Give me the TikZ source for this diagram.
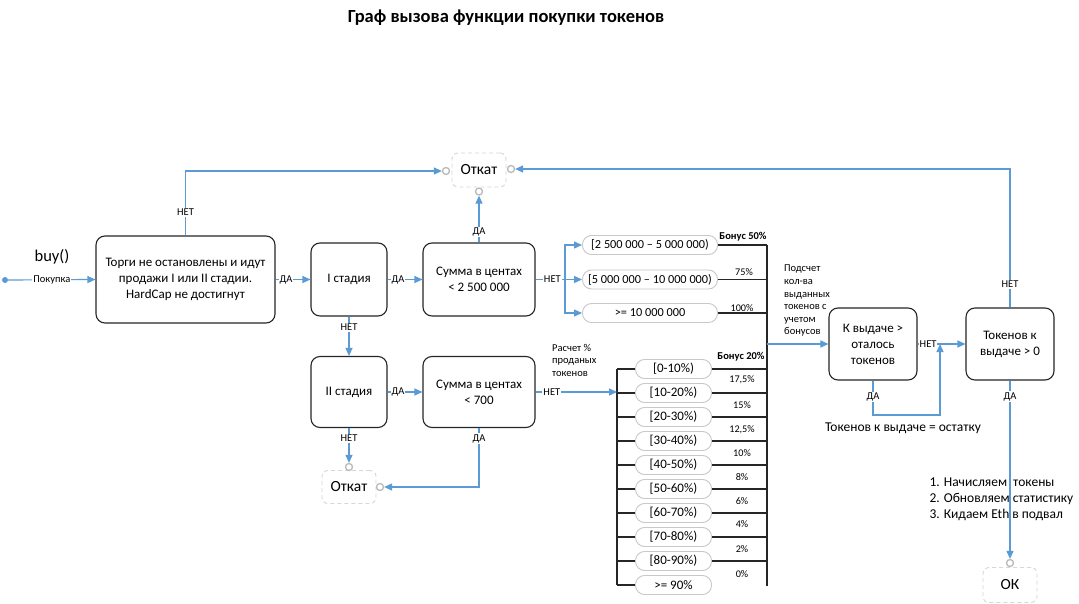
\documentclass[tikz,border=0pt]{standalone}
\usepackage{fontspec}
\setmainfont{Carlito}
\usetikzlibrary{arrows.meta}
\definecolor{cblue}{RGB}{91,155,213}
\definecolor{pillc}{RGB}{200,200,200}
\definecolor{ghost}{RGB}{215,215,215}
\definecolor{portc}{RGB}{185,185,185}
\tikzset{
  box/.style={draw=black!85, line width=1.1pt, rounded corners=9pt, align=center, inner sep=2pt, font=\fontsize{13}{16}\selectfont},
  ghostbox/.style={draw=ghost, dash pattern=on 4pt off 3pt, rounded corners=6pt, line width=0.9pt, font=\fontsize{15.5}{18}\selectfont, minimum width=54pt, minimum height=34pt},
  pill/.style={draw=pillc, line width=0.9pt, rounded corners=9pt, minimum height=19pt, font=\fontsize{12.3}{14}\selectfont, inner sep=1pt},
  port/.style={circle, draw=portc, line width=1.3pt, minimum size=7pt, inner sep=0pt, fill=white},
  lbl/.style={fill=white, inner sep=1pt, font=\fontsize{10.5}{12}\selectfont},
  small/.style={font=\fontsize{10.5}{12.6}\selectfont, align=left, inner sep=0pt},
  pct/.style={font=\fontsize{10.2}{12}\selectfont, inner sep=0pt},
  link/.style={draw=cblue, line width=1.2pt},
  arr/.style={link, -{Triangle[length=8pt,width=7pt]}},
  blk/.style={draw=black!85, line width=1.1pt}
}
\begin{document}
\begin{tikzpicture}[x=1pt,y=-1pt]
\fill[white] (0,0) rectangle (1079,604);
\useasboundingbox (0,0) rectangle (1079,604);

% title
\node[font=\bfseries\fontsize{18.5}{21}\selectfont] (title) at (506,18) {Граф вызова функции покупки токенов};

% start
\node[font=\fontsize{16.5}{19}\selectfont] (buy) at (52,257) {buy()};
\node[circle, fill=cblue, minimum size=6pt, inner sep=0pt] (start) at (5,280) {};

% main boxes
\node[box, minimum width=179pt, minimum height=87pt] (main) at (185.5,279.5) {Торги не остановлены и идут\\продажи I или II стадии.\\HardCap не достигнут};
\node[box, minimum width=76pt, minimum height=73pt] (st1) at (349,279.5) {I стадия};
\node[box, minimum width=112pt, minimum height=73pt] (sum1) at (479,279.5) {Сумма в центах\\< 2 500 000};
\node[box, minimum width=76pt, minimum height=71pt] (st2) at (349,392) {II стадия};
\node[box, minimum width=112pt, minimum height=71pt] (sum2) at (479,392) {Сумма в центах\\< 700};
\node[box, minimum width=88pt, minimum height=72pt] (kv) at (873,344) {К выдаче >\\оталось\\токенов};
\node[box, minimum width=88pt, minimum height=72pt] (tk) at (1010,344) {Токенов к\\выдаче > 0};

% ghost boxes
\node[ghostbox] (otk1) at (479,170) {Откат};
\node[ghostbox, minimum height=33pt] (otk2) at (349,487) {Откат};
\node[ghostbox, minimum height=35pt] (ok) at (1010,585) {ОК};
\node[port] (c1l) at (446,171) {};
\node[port] (c1r) at (511,169) {};
\node[port] (c1b) at (479,191.5) {};
\node[port] (c2t) at (349,467) {};
\node[port] (c2r) at (380,487) {};
\node[port] (c3t) at (1010,563) {};

% connectors left part
\draw[arr] (start) -- node[lbl, pos=0.5]{Покупка} (main.west);
\draw[arr] (main.east) -- node[lbl, pos=0.3]{ДА} (st1.west);
\draw[arr] (st1.east) -- node[lbl, pos=0.3]{ДА} (sum1.west);
\draw[arr] (sum1.north) -- node[lbl, pos=0.22]{ДА} (c1b.south);
\draw[arr] (main.north) |- node[lbl, pos=0.18]{НЕТ} (c1l.west);
\draw[arr] (tk.north) |- node[lbl, pos=0.083]{НЕТ} (c1r.east);
\draw[arr] (st1.south) -- node[lbl, pos=0.28]{НЕТ} (st2.north);
\draw[arr] (st2.south) -- node[lbl, pos=0.3]{НЕТ} (c2t.north);
\draw[arr] (st2.east) -- node[lbl, pos=0.3]{ДА} (sum2.west);
\draw[arr] (sum2.south) |- node[lbl, pos=0.09]{ДА} (c2r.east);

% upper bonus group
\node[pill, minimum width=135pt] (p1) at (650,245) {[2 500 000 – 5 000 000)};
\node[pill, minimum width=135pt] (p2) at (650,279.5) {[5 000 000 – 10 000 000)};
\node[pill, minimum width=135pt] (p3) at (650,313) {>= 10 000 000};
\coordinate (br) at (565,279.5);
\draw[link] (sum1.east) -- node[lbl, pos=0.57]{НЕТ} (br);
\draw[arr] (br) |- (p1.west);
\draw[arr] (br) -- (p2.west);
\draw[arr] (br) |- (p3.west);
\coordinate (vtop) at (767,245);
\coordinate (vbot) at (767,586);
\draw[blk] (vtop) -- (vbot);
\draw[blk] (p1.east) -- (p1.east -| vtop);
\draw[blk] (p2.east) -- (p2.east -| vtop);
\draw[blk] (p3.east) -- (p3.east -| vtop);
\node[pct, font=\bfseries\fontsize{10.5}{12}\selectfont] (b50) at (743,237) {Бонус 50\%};
\node[pct] (b75) at (744,272) {75\%};
\node[pct] (b100) at (742,308) {100\%};

% lower bonus group
\foreach \i/\yy/\t in {1/369/{[0-10\%)},2/393/{[10-20\%)},3/417/{[20-30\%)},4/441/{[30-40\%)},5/465/{[40-50\%)},6/489/{[50-60\%)},7/513/{[60-70\%)},8/537/{[70-80\%)},9/561/{[80-90\%)},10/585/{>= 90\%}}{
  \node[pill, minimum width=76pt, font=\fontsize{13}{14}\selectfont] (q\i) at (673.5,\yy) {\t};
}
\coordinate (lvt) at (617,369);
\coordinate (lvb) at (617,585);
\draw[blk] (lvt) -- (lvb);
\foreach \i in {1,...,10}{
  \draw[blk] (q\i.west) -- (q\i.west -| lvt);
}
\foreach \i in {1,...,9}{
  \draw[blk] (q\i.east) -- (q\i.east -| vtop);
}
\node[pct, font=\bfseries\fontsize{10.5}{12}\selectfont] (b20) at (741,357) {Бонус 20\%};
\foreach \n/\yy/\t in {a/380/{17,5\%},b/405/{15\%},c/430/{12,5\%},d/453/{10\%},e/477/{8\%},f/501/{6\%},g/524/{4\%},h/549/{2\%},k/574/{0\%}}{
  \node[pct] (bl\n) at (742,\yy) {\t};
}
\draw[arr] (sum2.east) -- node[lbl, pos=0.2]{НЕТ} (sum2.east -| lvt);
\node[small, anchor=north west] (rasch) at (552,344) {Расчет \%\\проданых\\токенов};

% right part
\coordinate (vk) at (767,344);
\draw[arr] (vk) -- (kv.west);
\node[small, anchor=north west] (podsch) at (784,265) {Подсчет\\кол-ва\\выданных\\токенов с\\учетом\\бонусов};
\coordinate (j1) at (940,344);
\coordinate (j1b) at (940,415);
\draw[arr] (kv.east) -- node[lbl, pos=0.22]{НЕТ} (tk.west);
\draw[arr] (kv.south) |- node[lbl, pos=0.24]{ДА} (j1b) -- (j1);
\node[font=\fontsize{13.5}{15}\selectfont] (ost) at (903,428) {Токенов к выдаче = остатку};
\draw[arr] (tk.south) -- node[lbl, pos=0.09]{ДА} (c3t.north);
\node[font=\fontsize{13.5}{16}\selectfont, align=left, anchor=west] (steps) at (926,499) {1. Начисляем \ токены\\2. Обновляем статистику\\3. Кидаем Eth в подвал};
\end{tikzpicture}
\end{document}
